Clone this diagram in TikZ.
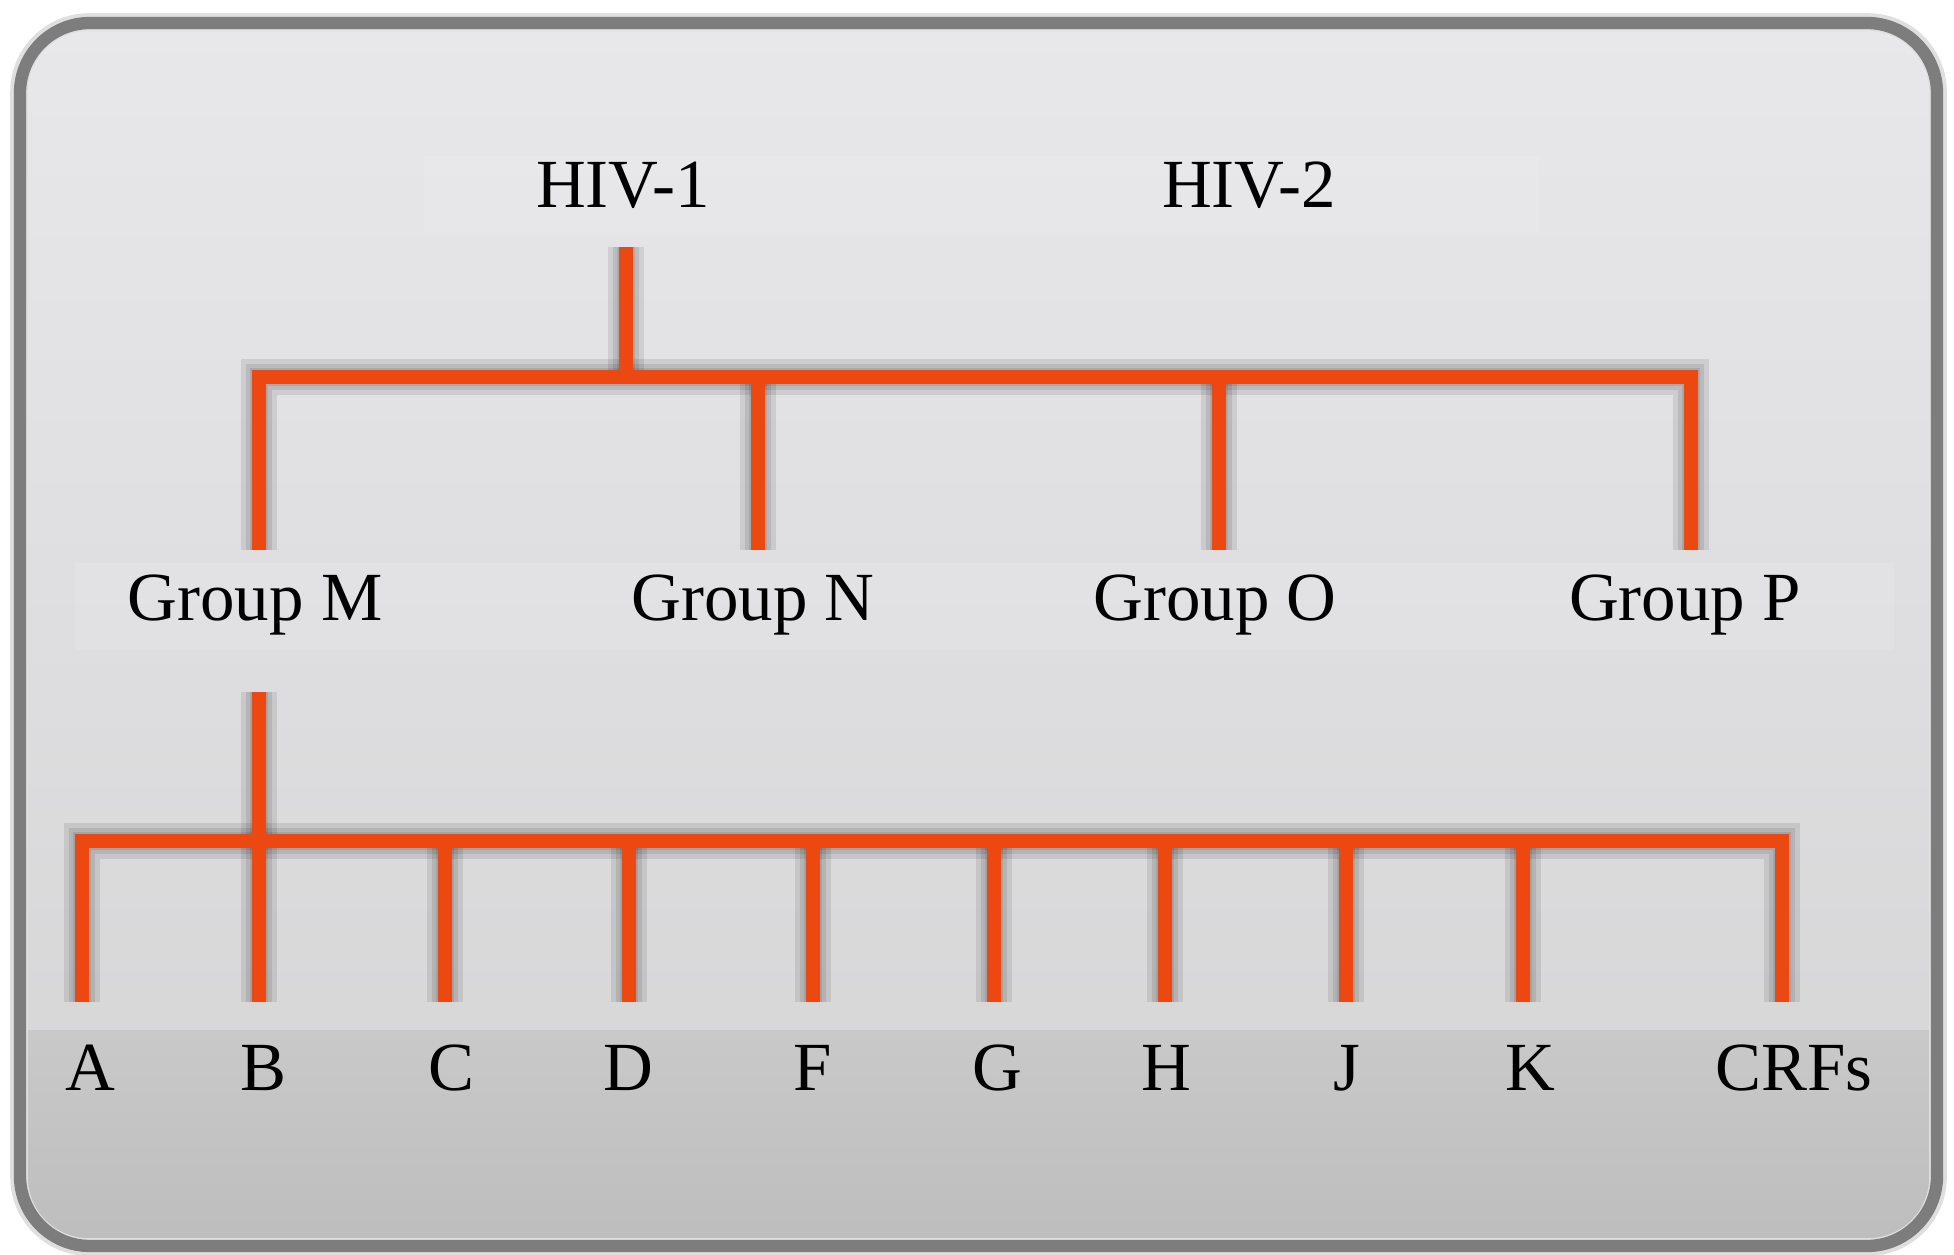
\documentclass[tikz,border=0pt]{standalone}
\usepackage{fontspec}
\setmainfont{Liberation Serif}
\usetikzlibrary{calc}
\definecolor{hivorange}{RGB}{236,72,18}
\definecolor{paneltop}{RGB}{232,231,234}
\definecolor{panelmid}{RGB}{227,226,229}
\definecolor{panelbot}{RGB}{212,212,213}
\definecolor{bandtop}{RGB}{201,201,201}
\definecolor{bandbot}{RGB}{189,189,189}
\definecolor{rim}{RGB}{125,125,125}
\tikzset{
  branch/.style={draw=hivorange, line width=4pt},
  branchshadow/.style={draw=black, opacity=0.09},
  taxon/.style={anchor=base, inner sep=2pt, font=\fontsize{19.6}{23}\selectfont},
  panel/.style={rounded corners=0.7cm}
}
% all the orange lines of the tree, drawn with a given style
\newcommand{\treelines}[1]{%
  \draw[#1] (hiv1-stem) -- ++(0,130);
  \draw[#1] (gM-top) -- ++(0,-173) -| (gP-top);
  \draw[#1] (gN-top) -- ++(0,-173);
  \draw[#1] (gO-top) -- ++(0,-173);
  \draw[#1] (gM-stem) -- (B-top);
  \draw[#1] (A-top) -- ++(0,-161) -| (CRFs-top);
  \foreach \n in {C,D,F,G,H,J,K} {\draw[#1] (\n-top) -- ++(0,-161);}
}

\begin{document}
\begin{tikzpicture}[x=0.01cm,y=-0.01cm]
\useasboundingbox (0,0) rectangle (1954,1255);
\fill[white] (0,0) rectangle (1954,1255);

% panel
\shade[panel, top color=paneltop, middle color=panelmid, bottom color=panelbot] (20,23) rectangle (1937,1246);
\begin{scope}
\clip[panel] (20,23) rectangle (1937,1246);
\shade[top color=bandtop, bottom color=bandbot] (20,1030) rectangle (1937,1246);
\end{scope}
\fill[white, opacity=0.1] (424,156) rectangle (1539,232);
\fill[white, opacity=0.1] (75,563) rectangle (1894,650);

% labels
\node[taxon] (hiv1) at (623,208) {HIV-1};
\node[taxon] (hiv2) at (1249,208) {HIV-2};
\foreach \g/\lx/\dx in {M/255/259, N/753/758, O/1215/1219, P/1685/1691} {
  \node[taxon] (g\g) at (\lx,620) {Group \g};
  \coordinate (g\g-top) at (\dx,550);
}
\foreach \n/\lx/\dx in {A/90/82, B/263/259, C/451/445, D/628/629, F/813/813,
  G/997/994, H/1166/1165, J/1347/1346, K/1530/1523, CRFs/1794/1782} {
  \node[taxon] (\n) at (\lx,1090) {\n};
  \coordinate (\n-top) at (\dx,1002);
}
\coordinate (hiv1-stem) at (626,247);
\coordinate (gM-stem) at (259,692);

% shadows, then the tree
\foreach \w in {10,7.5,5} {
  \begin{scope}[shift={(12,14)}]
  \treelines{branchshadow, line width=\w pt}
  \end{scope}
}
\treelines{branch}

% frame
\draw[panel, gray!25, line width=5pt] (19,22) rectangle (1938,1247);
\draw[panel, rim, line width=3.5pt] (20,23) rectangle (1937,1246);
\end{tikzpicture}
\end{document}
